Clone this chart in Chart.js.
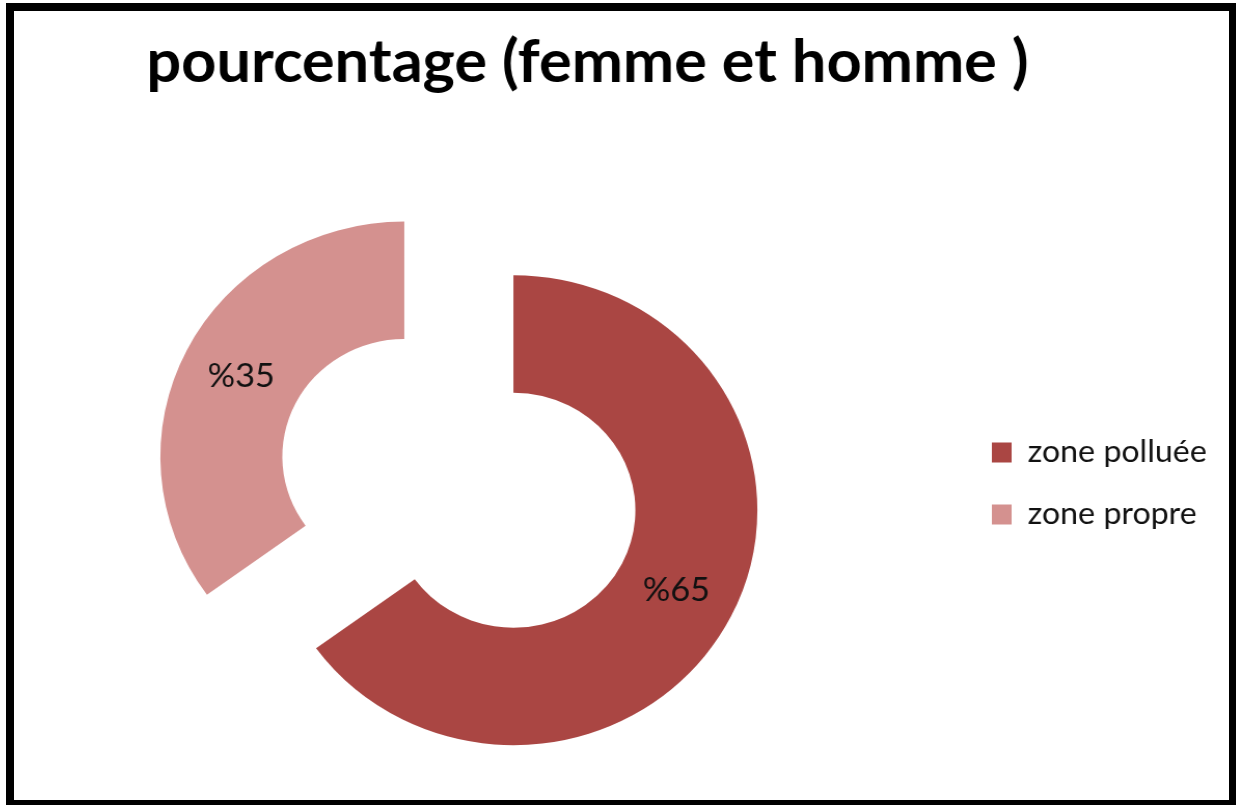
<!DOCTYPE html>
<html lang="fr">
<head>
  <meta charset="UTF-8">
  <title>pourcentage (femme et homme )</title>
  <script src="https://cdn.jsdelivr.net/npm/chart.js@4.4.1/dist/chart.umd.min.js"></script>
  <style>
    html, body { margin: 0; padding: 0; background: #fff; }
    #frame {
      position: absolute; left: 6px; top: 3px;
      width: 1215px; height: 789px;
      border: solid #000; border-width: 8px 7px 6px 8px;
      overflow: hidden; background: #fff;
    }
    /* the original picture is a little wider than tall, so stretch it the same way */
    #chart { position: absolute; left: -56px; top: 0; transform: scaleX(1.038); transform-origin: 0 0; }
  </style>
</head>
<body>
  <div id="frame">
    <canvas id="chart" width="1213" height="789"></canvas>
  </div>
  <script>
    // values
    const chartTitle = 'pourcentage (femme et homme )';
    const zones = ['zone polluée', 'zone propre'];
    const percents = [65, 35];

    // exploded slices: each arc is pushed out along its own bisector
    const explodePlugin = {
      id: 'explode',
      beforeDatasetDraw(chart, args, opts) {
        const ctx = chart.ctx;
        args.meta.data.forEach((arc) => {
          const mid = (arc.startAngle + arc.endAngle) / 2;
          ctx.save();
          ctx.translate(Math.cos(mid) * opts.distance, Math.sin(mid) * opts.distance);
          arc.draw(ctx);
          ctx.restore();
        });
        return false;
      },
      afterDatasetsDraw(chart, args, opts) {
        const ctx = chart.ctx;
        const meta = chart.getDatasetMeta(0);
        const values = chart.data.datasets[0].data;
        ctx.save();
        ctx.font = opts.font;
        ctx.fillStyle = opts.color;
        ctx.textAlign = 'center';
        ctx.textBaseline = 'middle';
        meta.data.forEach((arc, i) => {
          const mid = (arc.startAngle + arc.endAngle) / 2;
          const r = (arc.innerRadius + arc.outerRadius) / 2 + opts.distance;
          ctx.fillText('%' + values[i], arc.x + Math.cos(mid) * r, arc.y + Math.sin(mid) * r);
        });
        ctx.restore();
      }
    };

    const ctx = document.getElementById('chart').getContext('2d');
    const myChart = new Chart(ctx, {
      type: 'doughnut',
      data: {
        labels: zones,
        datasets: [{
          data: percents,
          backgroundColor: ['#AA4643', '#D4918F'],
          borderWidth: 0,
        }],
      },
      options: {
        responsive: false,
        animation: false,
        radius: 235,
        cutout: '50%',
        layout: { padding: 0 },
        plugins: {
          title: {
            display: true,
            text: chartTitle,
            color: '#000',
            font: { family: 'Lato', size: 59, weight: 'bold', lineHeight: 1.2 },
            padding: { top: 17, bottom: 68 },
          },
          legend: {
            position: 'right',
            fullSize: false,
            labels: {
              color: '#111',
              font: { family: 'Lato', size: 31 },
              boxWidth: 19,
              boxHeight: 20,
              padding: 31,
            },
          },
          tooltip: { enabled: false },
          explode: { distance: 59, font: '33px Lato', color: '#111' },
        },
      },
      plugins: [explodePlugin],
    });
  </script>
</body>
</html>
